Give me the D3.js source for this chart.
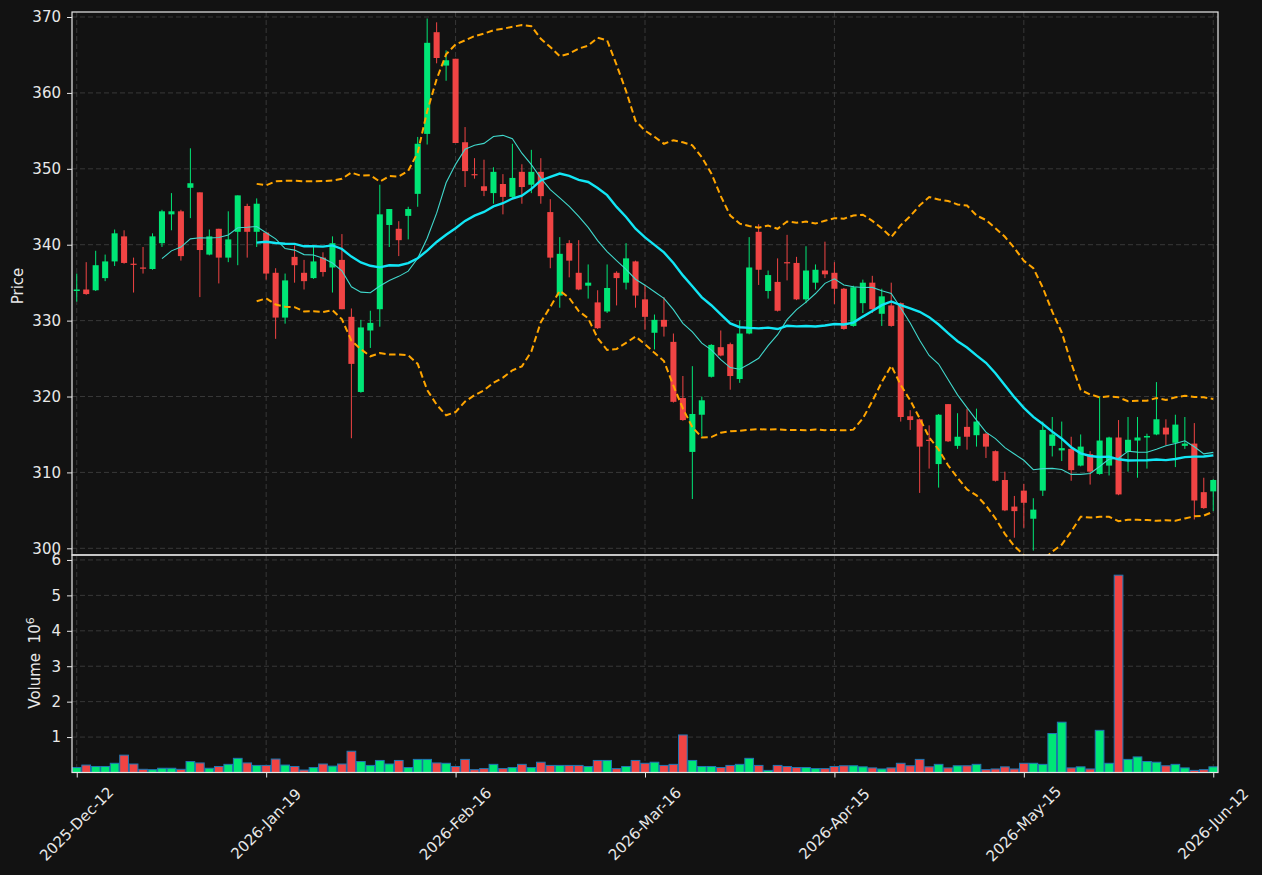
<!DOCTYPE html>
<html><head><meta charset="utf-8">
<script src="https://cdn.jsdelivr.net/npm/d3@7/dist/d3.min.js"></script>
<style>
body{margin:0;background:#121212}
svg{display:block}
text{font-family:"DejaVu Sans",sans-serif}
</style>
</head><body>
<svg id="c" width="1262" height="875"></svg>
<script>
// ---- data ----
const opens  = [333.9,334.1,334.0,335.6,337.8,341.1,337.5,337.0,336.8,340.2,344.0,344.4,347.5,346.9,338.7,342.1,338.3,341.7,345.1,341.7,
                341.6,336.3,330.4,338.4,336.3,335.6,338.3,337.0,338.0,330.5,320.6,328.7,331.5,342.6,342.1,343.8,346.7,354.6,368.0,363.6,
                364.5,353.5,349.3,347.7,346.8,348.0,346.3,349.6,347.9,349.6,344.3,333.3,340.2,336.3,334.6,332.4,331.2,336.3,335.0,337.8,
                332.8,328.4,330.1,327.2,319.8,312.7,317.6,322.6,326.5,326.9,322.3,328.3,341.7,333.9,335.1,337.7,337.6,332.8,335.0,336.6,
                336.3,334.2,329.3,332.3,335.0,330.9,332.0,332.3,317.4,317.0,314.3,311.1,319.0,313.5,316.0,314.9,315.1,312.8,309.0,305.5,
                307.6,303.9,307.6,313.5,312.9,313.1,310.9,312.4,309.8,310.9,314.6,312.7,314.2,314.6,315.0,315.9,313.9,313.5,313.8,307.4,
                307.5];
const highs  = [336.2,337.7,339.2,338.7,342.0,341.9,338.3,339.7,341.5,344.6,346.8,344.6,352.7,346.9,342.0,342.1,344.4,346.5,345.4,346.1,
                341.6,336.9,336.2,339.9,338.0,339.7,339.0,341.1,341.4,331.6,330.1,331.3,347.9,344.7,343.1,345.0,354.2,369.8,369.3,365.6,
                364.5,355.5,351.4,351.2,350.2,349.3,353.3,350.6,352.5,351.4,346.0,341.0,340.6,340.6,337.4,334.0,337.4,336.5,340.2,337.9,
                334.7,330.8,333.1,328.3,322.7,324.0,320.0,326.9,328.7,327.1,330.0,341.0,342.7,336.6,338.2,341.3,338.4,339.8,337.4,340.4,
                337.7,334.3,334.6,335.4,335.9,334.2,335.0,332.4,318.2,317.1,316.2,317.7,319.0,317.8,318.4,318.4,315.2,312.9,310.1,306.9,
                308.5,306.6,316.7,317.3,316.7,314.7,315.0,312.8,320.0,314.7,316.9,317.3,317.3,315.1,321.9,317.0,317.6,317.3,316.5,309.3,
                309.1];
const lows   = [332.5,333.4,333.9,335.2,337.2,337.5,333.7,336.2,336.7,339.7,341.9,337.9,343.5,333.1,338.6,334.9,337.7,337.3,338.3,339.7,
                335.4,327.6,329.6,335.0,334.1,335.5,335.8,333.7,331.5,314.5,320.5,326.4,329.2,339.7,338.5,340.7,345.0,353.2,363.9,361.6,
                353.4,347.6,348.7,346.4,345.4,344.0,346.0,345.4,346.8,345.4,336.9,331.7,335.7,334.0,332.9,328.9,331.0,332.0,334.1,331.7,
                328.8,326.2,327.9,319.2,316.8,306.5,314.7,322.5,325.3,320.9,321.8,328.2,334.7,332.9,331.2,335.3,332.7,332.3,334.1,335.6,
                332.2,328.8,329.2,331.0,331.0,329.3,329.2,316.7,315.6,307.3,310.5,308.0,314.0,313.1,313.0,313.4,311.9,308.8,304.9,301.4,
                302.7,299.7,306.9,312.1,311.5,308.9,310.8,308.4,309.7,309.6,307.0,310.1,309.3,310.5,314.9,313.6,310.7,313.1,303.8,305.2,
                304.9];
const closes = [334.1,333.5,337.3,337.8,341.5,337.6,337.4,336.9,341.1,344.4,344.4,338.5,348.1,339.3,341.1,338.3,340.7,346.5,341.7,345.4,
                336.2,330.4,335.3,337.3,335.2,337.8,336.4,340.2,331.5,324.3,329.1,329.7,344.0,344.7,340.6,344.7,353.3,366.6,364.6,364.3,
                353.4,349.7,349.2,347.1,349.6,346.3,348.8,347.6,349.6,346.4,338.3,338.8,337.9,334.1,335.0,329.0,334.3,335.6,338.2,333.3,
                330.5,330.1,329.2,319.3,316.9,317.7,319.5,326.8,325.4,322.7,328.3,337.0,336.7,336.0,331.3,337.6,332.8,336.6,336.7,336.1,
                334.2,328.9,334.4,335.0,331.5,333.2,329.3,317.3,316.9,313.4,314.2,317.6,314.1,314.7,314.7,316.7,313.4,308.9,305.0,304.9,
                306.0,305.1,315.6,315.0,313.2,310.3,313.4,310.1,314.2,314.6,307.1,314.3,314.6,314.8,317.0,315.0,316.3,313.8,306.3,305.3,
                309.0];
const volumes = [0.14,0.21,0.17,0.17,0.26,0.49,0.24,0.09,0.08,0.12,0.12,0.09,0.31,0.27,0.12,0.17,0.23,0.40,0.27,0.20,
                 0.20,0.38,0.21,0.17,0.07,0.14,0.24,0.18,0.24,0.60,0.31,0.20,0.34,0.24,0.34,0.14,0.37,0.37,0.27,0.26,
                 0.17,0.37,0.08,0.11,0.23,0.11,0.14,0.23,0.14,0.29,0.20,0.20,0.20,0.20,0.17,0.34,0.34,0.11,0.17,0.34,
                 0.26,0.29,0.20,0.23,1.06,0.34,0.17,0.17,0.14,0.20,0.23,0.40,0.20,0.06,0.20,0.17,0.14,0.14,0.11,0.11,
                 0.17,0.19,0.19,0.16,0.13,0.10,0.13,0.26,0.19,0.37,0.16,0.23,0.13,0.19,0.19,0.23,0.08,0.10,0.16,0.10,
                 0.26,0.26,0.23,1.10,1.42,0.13,0.16,0.10,1.19,0.26,5.57,0.37,0.44,0.31,0.29,0.19,0.23,0.13,0.06,0.08,
                 0.16];
const tickIndex  = [0,20,40,60,80,100,120];
const tickLabels = ["2025-Dec-12","2026-Jan-19","2026-Feb-16","2026-Mar-16","2026-Apr-15","2026-May-15","2026-Jun-12"];
const priceTicks = [300,310,320,330,340,350,360,370];
const volumeTicks = [1,2,3,4,5,6];
const maShort = 10, maLong = 20, bandWidth = 2;

// ---- layout ----
const L = 72, R = 1218, PT = 12, PB = 555, VB = 772.5;
const UP = "#00e676", DOWN = "#f04444", EDGE = "#1f77b4", BG = "#121212";
const FG = "#e8e8e8", GRID = "#3c3c3c";

const svg = d3.select("#c");
svg.append("rect").attr("width",1262).attr("height",875).attr("fill",BG);

const n = closes.length;
const idx = d3.range(n);
const x  = d3.scaleLinear().domain([-0.5, n - 0.5]).range([L, R]);
const yP = d3.scaleLinear().domain([299.12, 370.66]).range([PB, PT]);
const yV = d3.scaleLinear().domain([0, 6.14]).range([VB, PB]);

const defs = svg.append("defs");
defs.append("clipPath").attr("id","cp").append("rect").attr("x",L).attr("y",PT).attr("width",R-L).attr("height",PB-PT);
defs.append("clipPath").attr("id","cv").append("rect").attr("x",L).attr("y",PB).attr("width",R-L).attr("height",VB-PB);

// grids
const gGrid = svg.append("g").attr("stroke",GRID).attr("stroke-dasharray","5,3").attr("stroke-width",0.9);
gGrid.selectAll("line.hp").data(priceTicks).join("line")
  .attr("x1",L).attr("x2",R).attr("y1",d=>yP(d)).attr("y2",d=>yP(d));
gGrid.selectAll("line.hv").data(volumeTicks).join("line")
  .attr("x1",L).attr("x2",R).attr("y1",d=>yV(d)).attr("y2",d=>yV(d));
gGrid.selectAll("line.v").data(tickIndex).join("line")
  .attr("x1",d=>x(d)).attr("x2",d=>x(d)).attr("y1",PT).attr("y2",VB);

// candles
const up = i => closes[i] >= opens[i];
const gC = svg.append("g").attr("clip-path","url(#cp)");
gC.selectAll("line.w").data(idx).join("line")
  .attr("x1",i=>x(i)).attr("x2",i=>x(i))
  .attr("y1",i=>yP(highs[i])).attr("y2",i=>yP(lows[i]))
  .attr("stroke",i=>up(i)?UP:DOWN).attr("stroke-width",1);
const bw = (x(1)-x(0))*0.64;
gC.selectAll("rect.b").data(idx).join("rect")
  .attr("x",i=>x(i)-bw/2).attr("width",bw)
  .attr("y",i=>yP(Math.max(opens[i],closes[i])))
  .attr("height",i=>Math.max(1.2, Math.abs(yP(opens[i])-yP(closes[i]))))
  .attr("fill",i=>up(i)?UP:DOWN);

// moving averages & bands (derived from closes)
function rolling(k, f){ return idx.map(i => i < k-1 ? null : f(closes.slice(i-k+1, i+1))); }
const ma10 = rolling(maShort, a => d3.mean(a));
const ma20 = rolling(maLong, a => d3.mean(a));
const sd20 = rolling(maLong, a => { const m = d3.mean(a); return Math.sqrt(d3.mean(a, v => (v-m)*(v-m))); });
const upper = idx.map(i => ma20[i]==null?null:ma20[i]+bandWidth*sd20[i]);
const lower = idx.map(i => ma20[i]==null?null:ma20[i]-bandWidth*sd20[i]);
const line = arr => d3.line().defined(i=>arr[i]!=null).x(i=>x(i)).y(i=>yP(arr[i]))(idx);
gC.append("path").attr("d",line(ma10)).attr("fill","none").attr("stroke","#40d8cc").attr("stroke-width",1.1);
gC.append("path").attr("d",line(ma20)).attr("fill","none").attr("stroke","#12e6f5").attr("stroke-width",2.4);
gC.append("path").attr("d",line(upper)).attr("fill","none").attr("stroke","#ffa500").attr("stroke-width",2).attr("stroke-dasharray","6.5,3.5");
gC.append("path").attr("d",line(lower)).attr("fill","none").attr("stroke","#ffa500").attr("stroke-width",2).attr("stroke-dasharray","6.5,3.5");

// volume
const vw = (x(1)-x(0))*0.92;
svg.append("g").attr("clip-path","url(#cv)").selectAll("rect").data(idx).join("rect")
  .attr("x",i=>x(i)-vw/2).attr("width",vw)
  .attr("y",i=>yV(volumes[i])).attr("height",i=>yV(0)-yV(volumes[i]))
  .attr("fill",i=>up(i)?UP:DOWN).attr("stroke",EDGE).attr("stroke-width",1);

// frames
svg.append("rect").attr("x",L).attr("y",PT).attr("width",R-L).attr("height",PB-PT).attr("fill","none").attr("stroke",FG).attr("stroke-width",1.2);
svg.append("rect").attr("x",L).attr("y",PB).attr("width",R-L).attr("height",VB-PB).attr("fill","none").attr("stroke",FG).attr("stroke-width",1.2);

// axes
const fs = 15;
const gyP = svg.append("g").attr("transform",`translate(${L},0)`)
  .call(d3.axisLeft(yP).tickValues(priceTicks).tickSize(5).tickPadding(6).tickFormat(d3.format("d")));
const gyV = svg.append("g").attr("transform",`translate(${L},0)`)
  .call(d3.axisLeft(yV).tickValues(volumeTicks).tickSize(5).tickPadding(6).tickFormat(d3.format("d")));
const gx = svg.append("g").attr("transform",`translate(0,${VB})`)
  .call(d3.axisBottom(x).tickValues(tickIndex).tickSize(5).tickFormat(""));
[gyP,gyV,gx].forEach(g=>{
  g.select(".domain").remove();
  g.selectAll("line").attr("stroke",FG);
  g.selectAll("text").attr("fill",FG).attr("font-size",fs).attr("font-family","DejaVu Sans");
});
// rotated x labels
svg.append("g").selectAll("text").data(tickIndex).join("text")
  .attr("transform",(d)=>`translate(${x(d)},824) rotate(-45)`)
  .attr("text-anchor","middle").attr("dominant-baseline","central")
  .attr("fill",FG).attr("font-size",fs)
  .text((d,i)=>tickLabels[i]);

// axis labels
svg.append("text").attr("transform","translate(23,286) rotate(-90)")
  .attr("text-anchor","middle").attr("fill",FG).attr("font-size",fs).text("Price");
const vl = svg.append("text").attr("transform","translate(40,663) rotate(-90)")
  .attr("text-anchor","middle").attr("fill",FG).attr("font-size",fs).attr("xml:space","preserve");
vl.append("tspan").text("Volume  10");
vl.append("tspan").attr("dy",-6).attr("font-size",11).text("6");
</script>
</body></html>
